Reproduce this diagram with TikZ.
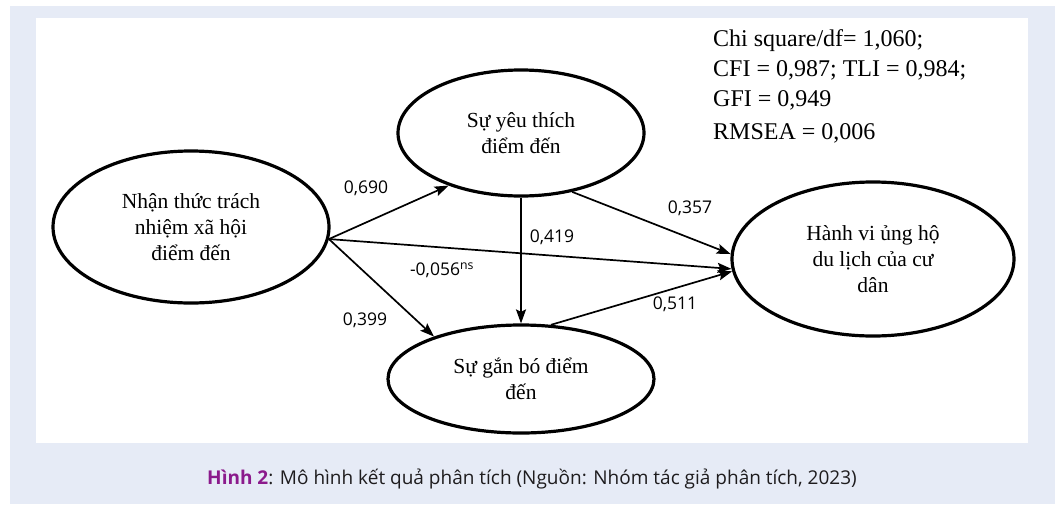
\documentclass[tikz,border=0pt]{standalone}
\usepackage{fontspec}
\setmainfont{Liberation Serif}
\newfontfamily\labelfont{Open Sans}
\usetikzlibrary{shapes.geometric,arrows.meta}
\definecolor{panelbg}{RGB}{230,235,246}
\definecolor{figpurple}{RGB}{139,26,140}
\definecolor{captiongray}{RGB}{30,28,30}

\begin{document}
\begin{tikzpicture}[x=1pt,y=-1pt,
  construct/.style={draw,ellipse,line width=3.2pt,inner sep=0pt,align=center,font=\fontsize{21.5}{26}\selectfont},
  effect/.style={-{Stealth[length=14pt,width=10pt,inset=2.5pt]},line width=1.7pt},
  coef/.style={font=\labelfont\fontsize{17.5}{19}\selectfont}]
\useasboundingbox (0,0) rectangle (1058,504);
\fill[panelbg] (10,6) rectangle (1055,504);
\fill[white] (36,18) rectangle (1028,443);

\node[construct,minimum width=276pt,minimum height=152pt] (nt) at (191,227) {Nhận thức trách\\nhiệm xã hội\\điểm đến};
\node[construct,minimum width=246pt,minimum height=126pt] (yt) at (521,133) {Sự yêu thích\\điểm đến};
\node[construct,minimum width=266pt,minimum height=108pt] (gb) at (521,379) {Sự gắn bó điểm\\đến};
\node[construct,minimum width=282pt,minimum height=154pt] (hv) at (873,259) {Hành vi ủng hộ\\du lịch của cư\\dân};

\draw[effect] (nt.-5) -- (yt.-144);
\draw[effect] (nt.-5) -- (gb.154);
\draw[effect] (nt.-5) -- (hv.184);
\draw[effect] (yt.-49) -- (hv.178);
\draw[effect] (yt.south) -- (gb.north);
\draw[effect] (gb.61) -- (hv.185);

\node[coef] (c1) at (366,188) {0,690};
\node[coef] (c2) at (365,320) {0,399};
\node[coef] (c3) at (552,237) {0,419};
\node[coef] (c4) at (442,270) {-0,056\textsuperscript{ns}};
\node[coef] (c5) at (690,208) {0,357};
\node[coef] (c6) at (675,304) {0,511};

\node[anchor=north west,inner sep=0pt,align=left,font=\fontsize{24}{30}\selectfont] (fit) at (713,29) {Chi square/df= 1,060;\\CFI = 0,987; TLI = 0,984;\\GFI = 0,949\\[3pt]RMSEA = 0,006};

\node[font=\labelfont\fontsize{19}{21}\selectfont,text=captiongray] (cap) at (532,479) {\textcolor{figpurple}{\bfseries Hình 2}: Mô hình kết quả phân tích (Nguồn: Nhóm tác giả phân tích, 2023)};
\end{tikzpicture}
\end{document}
